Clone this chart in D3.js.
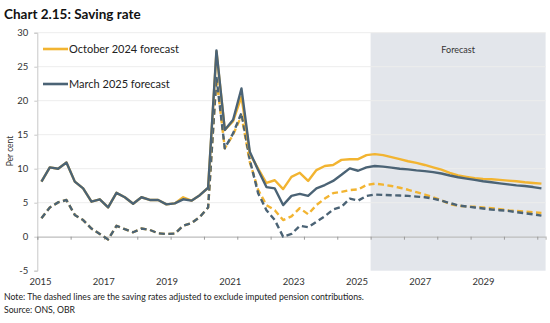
<!DOCTYPE html>
<html><head><meta charset="utf-8">
<script src="https://cdn.jsdelivr.net/npm/d3@7"></script>
<style>
body{margin:0;background:#fff;}
svg{display:block;font-family:Lato,"Open Sans",sans-serif;}
</style></head>
<body>
<svg id="c" width="550" height="323"></svg>
<script>
// Quarterly data, 2015Q1 .. 2030Q1
const startYear = 2015;
const forecastStartIndex = 40; // 2025Q1
const yTicks = [-5, 0, 5, 10, 15, 20, 25, 30];
const yearLabels = [2015, 2017, 2019, 2021, 2023, 2025, 2027, 2029];
const seriesNames = ["October 2024 forecast", "March 2025 forecast"];

const mar25 = [8.1,10.2,10.0,10.9,8.1,7.1,5.15,5.5,4.3,6.45,5.8,4.85,5.8,5.4,5.4,4.75,4.9,5.5,5.3,6.1,
  7.2,27.4,15.7,17.2,21.8,12.5,9.8,7.3,7.1,4.65,6.0,6.3,6.0,7.1,7.6,8.2,9.1,10.05,9.7,10.2,
  10.4,10.3,10.15,10.0,9.9,9.75,9.65,9.5,9.3,9.0,8.75,8.55,8.35,8.15,8.0,7.85,7.7,7.55,7.45,7.3,7.1];
const oct24 = [8.1,10.2,10.0,10.9,8.1,7.1,5.15,5.5,4.3,6.45,5.8,4.85,5.8,5.4,5.4,4.75,4.9,5.8,5.3,6.1,
  7.2,27.2,15.7,17.0,20.6,12.2,10.0,7.9,8.3,7.0,8.8,9.4,8.2,9.8,10.4,10.55,11.3,11.4,11.4,12.0,
  12.15,12.0,11.7,11.4,11.1,10.85,10.55,10.2,9.85,9.4,9.0,8.8,8.6,8.5,8.45,8.35,8.25,8.15,8.0,7.9,7.8];
const mar25Adj = [2.7,4.3,5.05,5.4,3.2,2.45,1.2,0.4,-0.4,1.6,1.1,0.65,1.2,1.0,0.5,0.4,0.45,1.6,2.0,2.9,
  4.3,23.5,13.0,15.2,18.2,11.3,6.4,3.9,2.45,0.0,0.4,1.6,1.4,2.2,3.0,4.0,4.4,5.6,5.3,6.0,
  6.2,6.15,6.1,6.05,6.0,5.9,5.8,5.6,5.3,4.95,4.6,4.45,4.3,4.15,4.0,3.9,3.8,3.6,3.45,3.3,3.1];
const oct24Adj = [2.7,4.3,5.05,5.4,3.2,2.45,1.2,0.4,-0.4,1.6,1.1,0.65,1.2,1.0,0.5,0.4,0.45,1.6,2.0,2.9,
  4.3,23.3,13.0,15.0,17.8,11.0,6.9,4.65,3.9,2.45,3.0,4.2,3.3,4.65,5.6,6.4,6.6,6.85,6.95,7.6,
  7.8,7.65,7.45,7.2,6.9,6.55,6.2,5.8,5.35,4.8,4.55,4.45,4.4,4.3,4.2,4.05,3.9,3.8,3.7,3.6,3.5];

const orange = "#F2B431", blue = "#4B6375";
const svg = d3.select("#c");
const nQ = mar25.length;
const x = d3.scaleLinear().domain([0, nQ]).range([37.3, 545.6]);
const y = d3.scaleLinear().domain([-5, 30]).range([270.7, 32.7]);
const xLab = d3.scalePoint().domain(yearLabels).range([40, 483]);

// title
svg.append("text").attr("x", 4).attr("y", 19).attr("font-size", 13.5).attr("font-weight", 700)
  .attr("fill", "#111").text("Chart 2.15: Saving rate");

// forecast shading
svg.append("rect").attr("x", x(forecastStartIndex)).attr("y", y(30))
  .attr("width", x(nQ) - x(forecastStartIndex)).attr("height", y(-5) - y(30)).attr("fill", "#E3E6EB");
svg.append("text").attr("x", (x(forecastStartIndex) + x(nQ)) / 2).attr("y", 53)
  .attr("text-anchor", "middle").attr("font-size", 9).attr("fill", "#333").text("Forecast");

// gridlines
svg.append("g").selectAll("line").data(yTicks.filter(v => v !== 0 && v !== -5)).join("line")
  .attr("x1", x(0)).attr("x2", x(nQ)).attr("y1", d => y(d)).attr("y2", d => y(d))
  .attr("stroke", "#EDEDED").attr("stroke-width", 1);

// y axis
const yAxis = d3.axisLeft(y).tickValues(yTicks).tickSize(3).tickPadding(6).tickFormat(d => String(d));
const gy = svg.append("g").attr("transform", `translate(${x(0)},0)`).call(yAxis);
gy.select(".domain").attr("stroke", "#C8C8C8");
gy.selectAll(".tick line").attr("stroke", "#C8C8C8");
gy.selectAll(".tick text").attr("font-size", 9.5).attr("fill", "#333").attr("font-family", "Lato,sans-serif");

svg.append("text").attr("transform", "translate(13,151) rotate(-90)").attr("text-anchor", "middle")
  .attr("font-size", 8.5).attr("fill", "#333").text("Per cent");

// zero axis with ticks
const xAxis = d3.axisBottom(x).tickValues(d3.range(0, nQ, 4)).tickSize(3).tickFormat("");
const gx = svg.append("g").attr("transform", `translate(0,${y(0)})`).call(xAxis);
gx.select(".domain").attr("stroke", "#BDBDBD").attr("stroke-width", 1.2);
gx.selectAll(".tick line").attr("stroke", "#9A9A9A");

// year labels
const labAxis = d3.axisBottom(xLab).tickSize(0).tickPadding(0);
const gl = svg.append("g").attr("transform", `translate(0,${y(-5) + 8})`).call(labAxis);
gl.select(".domain").remove();
gl.selectAll("text").attr("font-size", 9.5).attr("fill", "#333").attr("font-family", "Lato,sans-serif");

// lines
const line = d3.line().x((d, i) => x(i + 0.5)).y(d => y(d));
const draw = (data, color, dashed) => svg.append("path").datum(data).attr("d", line)
  .attr("fill", "none").attr("stroke", color).attr("stroke-width", 2.4)
  .attr("stroke-linejoin", "round")
  .attr("stroke-dasharray", dashed ? "6,3.5" : null);
draw(oct24Adj, orange, true);
draw(mar25Adj, blue, true);
draw(oct24, orange, false);
draw(mar25, blue, false);

// legend
const leg = [{name: seriesNames[0], c: orange, yy: 49}, {name: seriesNames[1], c: blue, yy: 84}];
leg.forEach(l => {
  svg.append("line").attr("x1", 43).attr("x2", 68).attr("y1", l.yy).attr("y2", l.yy)
    .attr("stroke", l.c).attr("stroke-width", 2.6);
  svg.append("text").attr("x", 69).attr("y", l.yy + 4).attr("font-size", 11).attr("fill", "#222").text(l.name);
});

// notes
svg.append("text").attr("x", 4).attr("y", 300).attr("font-size", 8.7).attr("fill", "#222")
  .text("Note: The dashed lines are the saving rates adjusted to exclude imputed pension contributions.");
svg.append("text").attr("x", 4).attr("y", 313).attr("font-size", 8.7).attr("fill", "#222")
  .text("Source: ONS, OBR");
</script>
</body></html>
